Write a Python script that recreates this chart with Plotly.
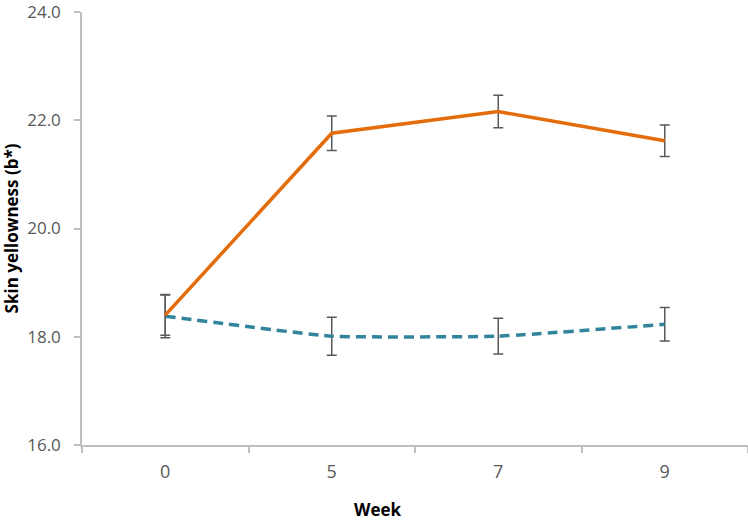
import plotly.graph_objects as go

weeks = ["0", "5", "7", "9"]
orange_vals = [18.40, 21.76, 22.16, 21.62]
orange_err = [0.37, 0.32, 0.30, 0.29]
teal_vals = [18.38, 18.01, 18.01, 18.23]
teal_err = [0.40, 0.35, 0.33, 0.31]
y_ticks = [16, 18, 20, 22, 24]
y_tick_text = ["16.0", "18.0", "20.0", "22.0", "24.0"]

err_color = "#595959"
font_family = "Open Sans"

fig = go.Figure()
fig.add_trace(go.Scatter(
    x=weeks, y=teal_vals, mode="lines",
    line=dict(color="#31849B", width=3.5, dash="10px,6px", shape="spline", smoothing=0.35),
    error_y=dict(type="data", array=teal_err, color=err_color, thickness=1.5, width=5),
    showlegend=False,
))
fig.add_trace(go.Scatter(
    x=weeks, y=orange_vals, mode="lines",
    line=dict(color="#E46C0A", width=3.5),
    error_y=dict(type="data", array=orange_err, color=err_color, thickness=1.5, width=5),
    showlegend=False,
))

fig.update_layout(
    width=748, height=520,
    margin=dict(l=82, r=0, t=12, b=75),
    paper_bgcolor="white", plot_bgcolor="white",
    font=dict(family=font_family, color="#595959", size=17),
    xaxis=dict(
        type="category", range=[-0.5, 3.5], tickson="boundaries", automargin=False,
        showline=True, linecolor="#BFBFBF", linewidth=1.5,
        ticks="outside", ticklen=6, tickcolor="#BFBFBF", tickwidth=1.5,
        showgrid=False, zeroline=False, ticklabelstandoff=10,
        tickfont=dict(size=18, color="#595959", family=font_family),
    ),
    yaxis=dict(
        range=[16, 24], tickvals=y_ticks, ticktext=y_tick_text, automargin=False,
        showline=True, linecolor="#BFBFBF", linewidth=1.5,
        ticks="outside", ticklen=6, tickcolor="#BFBFBF", tickwidth=1.5,
        showgrid=False, zeroline=False, ticklabelstandoff=10,
        ticklabeloverflow="allow",
        tickfont=dict(size=17, color="#595959", family=font_family),
        title=dict(text="<b>Skin yellowness (b*)</b>", font=dict(size=17, color="#000000", family=font_family), standoff=5),
    ),
    annotations=[dict(
        text="<b>Week</b>", x=(378 - 82) / 666, y=0, xref="paper", yref="paper",
        yshift=-64, showarrow=False, yanchor="middle",
        font=dict(size=17, color="#000000", family=font_family),
    )],
)

fig.write_html(
    "out.html",
    config={"displayModeBar": False},
    post_script="document.body.style.margin='0';document.body.style.overflow='hidden';",
)
